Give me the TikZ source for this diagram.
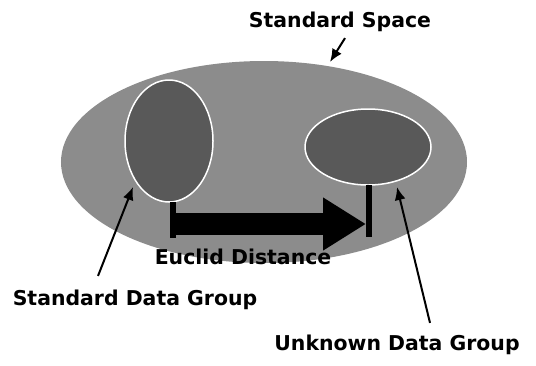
\documentclass[tikz,border=0pt]{standalone}
\usepackage{fontspec}
\setmainfont{DejaVu Sans}
\usetikzlibrary{shapes.geometric,arrows.meta}
\begin{document}
\begin{tikzpicture}[x=1bp,y=-1bp,
  lbl/.style={font=\fontsize{20.5}{24}\selectfont\bfseries, inner sep=0pt},
  ptr/.style={line width=2bp, -{Latex[length=13bp,width=11bp]}},
  grp/.style={ellipse, draw=white, line width=1.5bp, fill=black!65, inner sep=0pt},
  bar/.style={line width=6bp}]
\useasboundingbox (0,0) rectangle (536,365);
\node[ellipse, fill=black!45, minimum width=406bp, minimum height=202bp, inner sep=0pt] (S) at (264,162) {};
\node[grp, minimum width=88bp, minimum height=122bp] (L) at (169,141) {};
\node[grp, minimum width=126bp, minimum height=76bp] (R) at (368,147) {};
\coordinate (lb1) at (173,202);
\coordinate (lb2) at (173,238);
\coordinate (rb1) at (369,185);
\coordinate (rb2) at (369,237);
\draw[bar] (lb1) -- (lb2);
\draw[bar] (rb1) -- (rb2);
\coordinate (a1) at (176,224);
\coordinate (a2) at (366,224);
\draw[line width=22bp, -{Triangle[length=43bp,width=50bp]}] (a1) -- (a2);
\node[lbl] (ed) at (243,257) {Euclid Distance};
\node[lbl] (ss) at (340,22) {Standard Space};
\node[lbl] (sd) at (135,300) {Standard Data Group};
\node[lbl] (ud) at (397,345) {Unknown Data Group};
\coordinate (ssTip) at (330,62);
\coordinate (sdTip) at (133,187);
\coordinate (udTip) at (397,187);
\draw[ptr] (ss.south) ++(5,6) coordinate (ssStart) -- (ssTip);
\draw[ptr] (sd.north) ++(-37,-14) coordinate (sdStart) -- (sdTip);
\draw[ptr] (ud.north) ++(33,-12) coordinate (udStart) -- (udTip);
\end{tikzpicture}
\end{document}
